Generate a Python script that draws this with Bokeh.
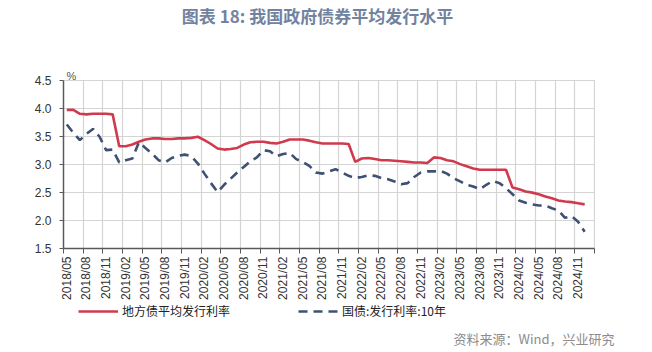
from math import pi
from bokeh.plotting import figure
from bokeh.layouts import column
from bokeh.models import (ColumnDataSource, FixedTicker, Label, Legend, LegendItem,
                          Range1d, BoxAnnotation)
from bokeh.embed import file_html
from bokeh.resources import INLINE

# ---- data -------------------------------------------------------------
months = []
for yy in range(2018, 2025):
    for mm in range(1, 13):
        if (yy == 2018 and mm < 5):
            continue
        months.append(f"{yy}/{mm:02d}")

local_bond_rate = [
    3.98, 3.98, 3.91, 3.90, 3.91, 3.91, 3.91, 3.90,
    3.33, 3.33, 3.36, 3.41, 3.45, 3.47, 3.47, 3.46, 3.46, 3.47, 3.47, 3.48,
    3.50, 3.44, 3.37, 3.29, 3.27, 3.28, 3.30, 3.36, 3.40, 3.41, 3.41, 3.39,
    3.38, 3.41, 3.45, 3.45, 3.45, 3.43, 3.40, 3.38, 3.38, 3.38, 3.38, 3.37,
    3.05, 3.11, 3.12, 3.10, 3.08, 3.08, 3.07, 3.06, 3.05, 3.04, 3.04, 3.03,
    3.13, 3.12, 3.08, 3.06, 3.01, 2.97, 2.93, 2.91, 2.91, 2.91, 2.91, 2.91,
    2.59, 2.56, 2.52, 2.50, 2.47, 2.43, 2.40, 2.36, 2.34, 2.33, 2.31, 2.29,
]

treasury_10y_rate = [
    3.72, 3.57, 3.44, 3.55, 3.64, 3.50, 3.26, 3.27,
    3.04, 3.08, 3.11, 3.40, 3.30, 3.20, 3.08, 3.04, 3.12, 3.16, 3.18, 3.15,
    3.02, 2.84, 2.67, 2.51, 2.64, 2.75, 2.86, 2.96, 3.06, 3.13, 3.26, 3.24,
    3.15, 3.19, 3.21, 3.10, 3.05, 2.98, 2.86, 2.84, 2.88, 2.92, 2.86, 2.80,
    2.76, 2.78, 2.81, 2.80, 2.76, 2.74, 2.70, 2.65, 2.67, 2.78, 2.86, 2.88,
    2.88, 2.89, 2.84, 2.76, 2.70, 2.64, 2.61, 2.56, 2.64, 2.71, 2.67, 2.58,
    2.47, 2.36, 2.32, 2.29, 2.27, 2.27, 2.22, 2.18, 2.05, 2.08, 1.98, 1.80,
]

y_ticks = [1.5, 2.0, 2.5, 3.0, 3.5, 4.0, 4.5]
n_slots = 81  # axis categories 2018/05 .. 2025/01

title_text = "图表 18: 我国政府债券平均发行水平"
series_names = ["地方债平均发行利率", "国债:发行利率:10年"]
source_text = "资料来源：Wind，兴业研究"

# ---- geometry ---------------------------------------------------------
W, H = 652, 352
LEFT = 63
PLOT_RIGHT = 594                   # pixel column where the category axis ends
MAIN_H = 302                       # main chart figure height
FOOT_H = H - MAIN_H                # legend / source strip
FRAME_BOTTOM = 250                 # pixel row of the 1.5 line
PLOT_TOP = 81                      # pixel row of the 4.5 line
frame_h = FRAME_BOTTOM
px_per_unit = (FRAME_BOTTOM - PLOT_TOP) / (y_ticks[-1] - y_ticks[0])
y_top = y_ticks[-1] + PLOT_TOP / px_per_unit
px_per_slot = (PLOT_RIGHT - LEFT) / n_slots
x_end = n_slots - 0.5
x_right = x_end + (W - PLOT_RIGHT) / px_per_slot

idx = list(range(len(months)))
src = ColumnDataSource(dict(x=idx, local=local_bond_rate, tsy=treasury_10y_rate))

p = figure(width=W, height=MAIN_H, output_backend="svg", toolbar_location=None,
           x_range=Range1d(-0.5, x_right), y_range=Range1d(y_ticks[0], y_top),
           min_border_left=LEFT, min_border_right=0,
           min_border_top=0, min_border_bottom=MAIN_H - FRAME_BOTTOM)
p.outline_line_color = None
p.background_fill_color = "white"
p.border_fill_color = "white"

red = "#d03a4c"
navy = "#3f5173"
dash = "9 6"

p.line("x", "local", source=src, line_color=red, line_width=2.6)
p.line("x", "tsy", source=src, line_color=navy, line_width=2.6, line_dash=dash)

# x axis: labels at category centres, tick marks between categories
label_pos = list(range(0, n_slots, 3))[:27]
boundaries = [i - 0.5 for i in range(0, n_slots + 1, 3)]
p.xaxis.ticker = FixedTicker(ticks=label_pos, minor_ticks=boundaries)
p.xaxis.bounds = (-0.5, x_end)
p.xaxis.major_label_overrides = {i: months[i] for i in label_pos}
p.xaxis.major_label_orientation = pi / 2
p.xaxis.major_label_text_font = "Liberation Sans"
p.xaxis.major_label_text_font_size = "12px"
p.xaxis.major_label_text_color = "#333333"
p.xaxis.major_tick_line_color = None
p.xaxis.major_tick_out = 5
p.xaxis.major_tick_in = 0
p.xaxis.minor_tick_line_color = "#595959"
p.xaxis.minor_tick_out = 5
p.xaxis.minor_tick_in = 0
p.xaxis.major_label_standoff = 3
p.xaxis.axis_line_color = "#595959"
p.xaxis.axis_line_width = 1.5

p.xgrid.ticker = FixedTicker(ticks=boundaries)
p.xgrid.grid_line_color = "#d4d4d4"
p.xgrid.grid_line_width = 1.2

p.yaxis.ticker = FixedTicker(ticks=y_ticks)
p.yaxis.bounds = (y_ticks[0], y_ticks[-1])
p.yaxis.major_label_overrides = {v: f"{v:.1f}" for v in y_ticks}
p.yaxis.major_label_text_font = "Liberation Sans"
p.yaxis.major_label_text_font_size = "12px"
p.yaxis.major_label_text_color = "#333333"
p.yaxis.major_tick_out = 4
p.yaxis.major_tick_in = 0
p.yaxis.minor_tick_line_color = None
p.yaxis.major_tick_line_color = "#595959"
p.yaxis.axis_line_color = "#595959"
p.yaxis.axis_line_width = 1.5
p.yaxis.major_label_standoff = 8
p.ygrid.grid_line_color = "#d4d4d4"
p.ygrid.grid_line_width = 1.2

# blank margins above the 4.5 line and right of the last category
p.add_layout(BoxAnnotation(bottom=y_ticks[-1] + 0.015, fill_color="white", fill_alpha=1.0,
                           line_alpha=0))
p.add_layout(BoxAnnotation(left=x_end + 0.1, fill_color="white", fill_alpha=1.0,
                           line_alpha=0))

# title and "%" (screen units relative to frame bottom-left)
p.add_layout(Label(x=317 - LEFT, y=frame_h - 17, x_units="screen", y_units="screen",
                   text=title_text, text_align="center", text_baseline="middle",
                   text_font="Noto Sans CJK SC", text_font_size="17px",
                   text_font_style="bold", text_color="#7283a0"))
p.add_layout(Label(x=3, y=frame_h - 77, x_units="screen", y_units="screen",
                   text="%", text_align="left", text_baseline="middle",
                   text_font="Liberation Sans", text_font_size="11px",
                   text_color="#555555"))

# ---- footer: legend and source ----------------------------------------
f = figure(width=W, height=FOOT_H, output_backend="svg", toolbar_location=None,
           x_range=Range1d(0, 1), y_range=Range1d(0, 1),
           x_axis_location=None, y_axis_location=None,
           min_border=0, min_border_left=LEFT, min_border_right=0,
           min_border_top=0, min_border_bottom=0)
f.outline_line_color = None
f.grid.visible = False
f.background_fill_color = "white"
f.border_fill_color = "white"

# hidden copies of the series, used only for the legend swatches
k1 = f.line("x", "local", source=src, line_color=red, line_width=2.6, visible=False)
k2 = f.line("x", "tsy", source=src, line_color=navy, line_width=2.6,
            line_dash=dash, visible=False)

legend_center = 311 - MAIN_H       # from footer top
lg = Legend(items=[LegendItem(label=series_names[0], renderers=[k1]),
                   LegendItem(label=series_names[1], renderers=[k2])],
            location=(78 - LEFT, FOOT_H - legend_center - 8), orientation="horizontal",
            glyph_width=40, glyph_height=16, label_height=16,
            label_standoff=4, padding=0, margin=0, spacing=68,
            border_line_color=None, background_fill_alpha=0,
            inactive_fill_alpha=0.0,
            label_text_font="Noto Sans CJK SC", label_text_font_size="12px",
            label_text_color="#222222")
f.add_layout(lg, "center")

f.add_layout(Label(x=614 - LEFT, y=FOOT_H - (338 - MAIN_H), x_units="screen", y_units="screen",
                   text=source_text, text_align="right", text_baseline="middle",
                   text_font="Noto Sans CJK SC", text_font_size="13px",
                   text_color="#8c8c8c"))

layout = column(p, f, spacing=0)
open("out.html", "w").write(file_html(layout, INLINE))
